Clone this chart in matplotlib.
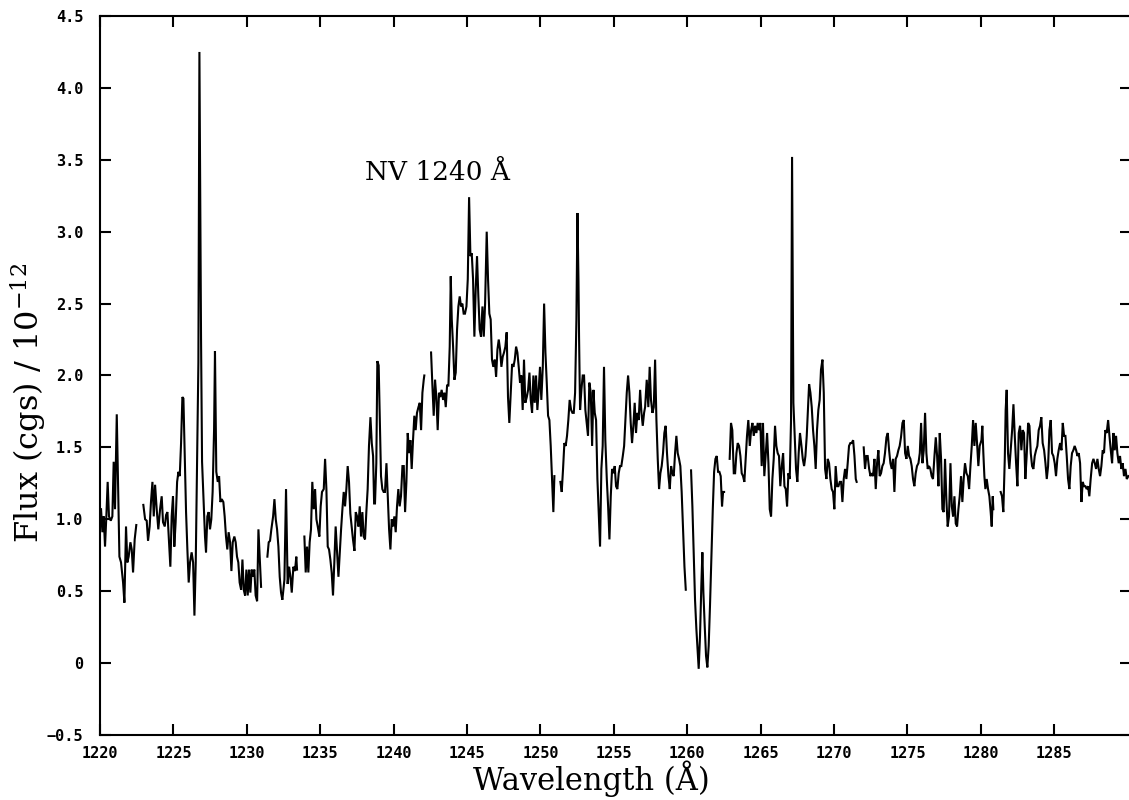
import numpy as np
import matplotlib
matplotlib.use("Agg")
import matplotlib.pyplot as plt

# spectrum, one pair of lists per unbroken piece of the trace
wave_a = [1220.07, 1220.16, 1220.25, 1220.34, 1220.43, 1220.52, 1220.61, 1220.73, 1220.84, 1220.93,
          1221.02, 1221.14, 1221.23, 1221.32, 1221.43, 1221.57, 1221.66, 1221.77, 1221.86, 1221.95,
          1222.07, 1222.16, 1222.25, 1222.36, 1222.47]
flux_a = [1.07, 0.91, 1.02, 0.81, 1.02, 1.26, 1.02, 0.99, 1.02, 1.40,
          1.07, 1.73, 1.23, 0.74, 0.70, 0.56, 0.42, 0.95, 0.70, 0.74,
          0.84, 0.79, 0.63, 0.86, 0.96]

wave_b = [1222.95, 1223.07, 1223.18, 1223.27, 1223.38, 1223.47, 1223.57, 1223.66, 1223.75, 1223.86,
          1223.97, 1224.09, 1224.20, 1224.29, 1224.41, 1224.50, 1224.59, 1224.70, 1224.79, 1224.88,
          1224.97, 1225.06, 1225.15, 1225.25, 1225.34, 1225.43, 1225.52, 1225.61, 1225.68, 1225.77,
          1225.86, 1225.95, 1226.04, 1226.13, 1226.24, 1226.34, 1226.43, 1226.52, 1226.61, 1226.70,
          1226.77, 1226.88, 1226.95, 1227.04, 1227.15, 1227.22, 1227.31, 1227.40, 1227.49, 1227.58,
          1227.67, 1227.77, 1227.83, 1227.92, 1228.02, 1228.11, 1228.20, 1228.29, 1228.40, 1228.49,
          1228.58, 1228.67, 1228.76, 1228.86, 1228.95, 1229.04, 1229.15, 1229.24, 1229.33, 1229.42,
          1229.51, 1229.61, 1229.70, 1229.79, 1229.88, 1229.97, 1230.06, 1230.15, 1230.24, 1230.33,
          1230.42, 1230.51, 1230.60, 1230.70, 1230.79, 1230.97]
flux_b = [1.10, 1.00, 0.99, 0.85, 0.95, 1.12, 1.26, 1.02, 1.24, 1.07,
          0.93, 1.07, 1.16, 0.98, 0.95, 1.03, 1.05, 0.84, 0.67, 1.02,
          1.16, 0.81, 0.98, 1.26, 1.33, 1.30, 1.53, 1.85, 1.84, 1.46,
          1.05, 0.79, 0.56, 0.70, 0.77, 0.70, 0.33, 0.70, 1.40, 2.09,
          4.25, 2.27, 1.40, 1.16, 0.88, 0.77, 1.02, 1.05, 0.93, 1.00,
          1.19, 1.63, 2.17, 1.33, 1.26, 1.30, 1.12, 1.14, 1.12, 1.02,
          0.88, 0.79, 0.91, 0.84, 0.64, 0.84, 0.88, 0.84, 0.74, 0.70,
          0.56, 0.51, 0.72, 0.51, 0.47, 0.65, 0.47, 0.65, 0.49, 0.65,
          0.60, 0.65, 0.47, 0.43, 0.93, 0.53]

wave_c = [1231.40, 1231.49, 1231.58, 1231.67, 1231.79, 1231.88, 1231.97, 1232.06, 1232.15, 1232.24,
          1232.33, 1232.42, 1232.56, 1232.67, 1232.78, 1232.88, 1232.97, 1233.06, 1233.17, 1233.28,
          1233.37, 1233.42]
flux_c = [0.74, 0.84, 0.85, 0.93, 1.02, 1.14, 1.00, 0.93, 0.81, 0.60,
          0.49, 0.44, 0.58, 1.21, 0.55, 0.67, 0.60, 0.49, 0.67, 0.64,
          0.74, 0.65]

wave_d = [1233.92, 1234.01, 1234.10, 1234.19, 1234.28, 1234.37, 1234.46, 1234.56, 1234.65, 1234.74,
          1234.83, 1234.94, 1235.03, 1235.12, 1235.24, 1235.33, 1235.42, 1235.51, 1235.60, 1235.69,
          1235.78, 1235.87, 1235.96, 1236.05, 1236.15, 1236.24, 1236.33, 1236.42, 1236.51, 1236.60,
          1236.69, 1236.78, 1236.87, 1236.96, 1237.05, 1237.14, 1237.23, 1237.33, 1237.42, 1237.51,
          1237.60, 1237.69, 1237.78, 1237.87, 1237.96, 1238.05, 1238.14, 1238.23, 1238.32, 1238.42,
          1238.51, 1238.60, 1238.67, 1238.73, 1238.82, 1238.89, 1238.98, 1239.05, 1239.14, 1239.23,
          1239.32, 1239.41, 1239.51, 1239.60, 1239.69, 1239.78, 1239.87, 1239.96, 1240.05, 1240.14,
          1240.23, 1240.32, 1240.41, 1240.50, 1240.60, 1240.69, 1240.78, 1240.87, 1240.96, 1241.05,
          1241.14, 1241.23, 1241.32, 1241.41, 1241.50, 1241.59, 1241.69, 1241.78, 1241.87, 1241.96,
          1242.05, 1242.09]
flux_d = [0.88, 0.63, 0.81, 0.63, 0.84, 0.93, 1.26, 1.07, 1.21, 1.00,
          0.95, 0.88, 1.09, 1.19, 1.21, 1.42, 1.21, 0.81, 0.79, 0.72,
          0.63, 0.47, 0.70, 0.95, 0.77, 0.60, 0.77, 0.93, 1.07, 1.19,
          1.09, 1.21, 1.37, 1.26, 1.04, 0.95, 0.86, 0.78, 1.05, 1.02,
          0.95, 1.09, 0.88, 1.05, 0.88, 0.86, 1.05, 1.21, 1.51, 1.71,
          1.53, 1.44, 1.11, 1.11, 1.39, 2.10, 2.07, 1.74, 1.30, 1.21,
          1.19, 1.19, 1.39, 1.16, 0.93, 0.79, 1.00, 0.95, 1.02, 0.91,
          1.09, 1.21, 1.09, 1.16, 1.37, 1.37, 1.05, 1.26, 1.60, 1.46,
          1.55, 1.35, 1.55, 1.72, 1.62, 1.74, 1.78, 1.81, 1.62, 1.88,
          1.97, 2.00]

wave_e = [1242.55, 1242.64, 1242.73, 1242.82, 1242.91, 1243.00, 1243.09, 1243.18, 1243.27, 1243.37,
          1243.46, 1243.55, 1243.64, 1243.73, 1243.82, 1243.89, 1243.96, 1244.05, 1244.14, 1244.23,
          1244.32, 1244.41, 1244.50, 1244.59, 1244.68, 1244.77,
          1244.86, 1244.96, 1245.05, 1245.14, 1245.23, 1245.32, 1245.41, 1245.50, 1245.59, 1245.68,
          1245.77, 1245.86, 1245.95, 1246.05, 1246.14, 1246.23, 1246.34, 1246.43, 1246.52, 1246.61,
          1246.70, 1246.79, 1246.89, 1246.98, 1247.07, 1247.16, 1247.25, 1247.34, 1247.43, 1247.52,
          1247.61, 1247.70, 1247.79, 1247.88, 1247.98, 1248.07, 1248.16, 1248.25, 1248.34, 1248.43,
          1248.52, 1248.61, 1248.70, 1248.79, 1248.88, 1248.97, 1249.07, 1249.16, 1249.25, 1249.34,
          1249.43, 1249.52, 1249.61, 1249.70, 1249.79, 1249.88, 1249.97, 1250.06, 1250.16, 1250.25,
          1250.34, 1250.43, 1250.52, 1250.61, 1250.70, 1250.79, 1250.88, 1250.95]
flux_e = [2.16, 1.93, 1.72, 1.97, 1.85, 1.62, 1.88, 1.85, 1.90, 1.83,
          1.88, 1.78, 1.93, 1.93, 2.20, 2.69, 2.39, 2.20, 1.97, 2.02,
          2.32, 2.48, 2.55, 2.48, 2.50, 2.43,
          2.43, 2.48, 2.67, 3.24, 2.83, 2.85, 2.67, 2.27, 2.60, 2.83,
          2.55, 2.32, 2.27, 2.48, 2.27, 2.50, 3.00, 2.67, 2.43, 2.39,
          2.11, 2.06, 2.11, 1.99, 2.18, 2.25, 2.18, 2.06, 2.13, 2.16,
          2.20, 2.30, 1.85, 1.67, 1.88, 2.08, 2.06, 2.11, 2.20, 2.16,
          2.06, 1.95, 2.00, 1.76, 2.11, 1.81, 1.85, 1.90, 2.02, 1.83,
          1.74, 2.00, 1.81, 2.00, 1.76, 1.90, 2.06, 1.83, 2.06, 2.50,
          2.16, 1.95, 1.72, 1.69, 1.51, 1.28, 1.05, 1.30]

wave_f = [1251.36, 1251.45, 1251.54, 1251.63, 1251.72, 1251.81, 1251.90, 1251.99, 1252.09, 1252.18,
          1252.27, 1252.36, 1252.45, 1252.52, 1252.59, 1252.63, 1252.70, 1252.79, 1252.88, 1252.97,
          1253.06, 1253.15, 1253.24, 1253.33, 1253.43, 1253.52, 1253.61, 1253.70, 1253.79, 1253.88,
          1253.97, 1254.06, 1254.15, 1254.24, 1254.33, 1254.42, 1254.52, 1254.61, 1254.70, 1254.79,
          1254.88, 1254.97, 1255.06, 1255.15, 1255.24, 1255.33, 1255.42, 1255.51, 1255.61, 1255.70,
          1255.79, 1255.88, 1255.97, 1256.06, 1256.15, 1256.24, 1256.33, 1256.42, 1256.51, 1256.60,
          1256.69, 1256.79, 1256.88, 1256.97, 1257.06,
          1257.13, 1257.24, 1257.35, 1257.44, 1257.53, 1257.63, 1257.72, 1257.81, 1257.90, 1257.99,
          1258.08, 1258.17, 1258.26, 1258.35, 1258.44, 1258.53, 1258.62, 1258.72, 1258.81, 1258.90,
          1258.99, 1259.08, 1259.17, 1259.26, 1259.35, 1259.44, 1259.53, 1259.62, 1259.71, 1259.81,
          1259.90]
flux_f = [1.26, 1.19, 1.35, 1.53, 1.51, 1.58, 1.69, 1.83, 1.76, 1.74,
          1.74, 1.88, 2.39, 3.13, 2.67, 2.27, 1.76, 1.90, 2.00, 2.00,
          1.76, 1.67, 1.58, 1.95, 1.88, 1.51, 1.90, 1.74, 1.69, 1.28,
          1.05, 0.81, 1.35, 1.51, 2.06, 1.55, 1.28, 1.09, 0.86, 1.16,
          1.35, 1.32, 1.37, 1.23, 1.21, 1.32, 1.37, 1.37, 1.44, 1.51,
          1.69, 1.88, 2.00, 1.88, 1.67, 1.53, 1.65, 1.81, 1.60, 1.74,
          1.69, 1.90, 1.74, 1.65, 1.74,
          1.78, 1.97, 1.78, 2.06, 1.83, 1.74, 1.78, 2.11, 1.69, 1.42,
          1.21, 1.32, 1.37, 1.46, 1.60, 1.65, 1.46, 1.30, 1.21, 1.37,
          1.32, 1.30, 1.46, 1.58, 1.46, 1.42, 1.37, 1.19, 0.95, 0.67,
          0.51]

wave_g = [1260.26, 1260.35, 1260.44, 1260.53, 1260.62, 1260.71, 1260.78, 1260.87, 1260.96, 1261.03,
          1261.10, 1261.19, 1261.28, 1261.37, 1261.46, 1261.55, 1261.64, 1261.74, 1261.83, 1261.92,
          1262.01, 1262.10, 1262.19, 1262.28, 1262.37, 1262.44, 1262.51]
flux_g = [1.34, 1.09, 0.77, 0.44, 0.24, 0.08, -0.04, 0.19, 0.54, 0.77,
          0.49, 0.26, 0.05, -0.03, 0.12, 0.40, 0.72, 1.07, 1.33, 1.42,
          1.44, 1.33, 1.33, 1.30, 1.09, 1.19, 1.19]

wave_h = [1262.89, 1262.98, 1263.07, 1263.17, 1263.26, 1263.35, 1263.44, 1263.53, 1263.62, 1263.71,
          1263.80, 1263.89, 1263.98, 1264.07, 1264.16, 1264.26, 1264.35, 1264.44, 1264.53, 1264.62,
          1264.71, 1264.80, 1264.89, 1264.98, 1265.07, 1265.16, 1265.25, 1265.35, 1265.44, 1265.53,
          1265.62, 1265.71, 1265.80, 1265.89, 1265.98, 1266.07, 1266.16, 1266.25, 1266.34, 1266.44,
          1266.53, 1266.62, 1266.71, 1266.80, 1266.89, 1266.98, 1267.07, 1267.14, 1267.23, 1267.32,
          1267.41, 1267.50, 1267.59, 1267.68, 1267.78, 1267.87, 1267.96, 1268.05, 1268.14, 1268.23,
          1268.30, 1268.39, 1268.48, 1268.57, 1268.66, 1268.75, 1268.84, 1268.93, 1269.02, 1269.11,
          1269.21, 1269.30, 1269.39,
          1269.48, 1269.57, 1269.66, 1269.75, 1269.84, 1269.93, 1270.02, 1270.11, 1270.21, 1270.30,
          1270.39, 1270.48, 1270.57, 1270.66, 1270.75, 1270.84, 1270.93, 1271.02, 1271.11, 1271.20,
          1271.30, 1271.39, 1271.48, 1271.54]
flux_h = [1.42, 1.67, 1.62, 1.32, 1.32, 1.46, 1.53, 1.51, 1.44, 1.32,
          1.30, 1.26, 1.42, 1.58, 1.69, 1.51, 1.62, 1.67, 1.58, 1.65,
          1.60, 1.67, 1.62, 1.67, 1.37, 1.67, 1.30, 1.46, 1.60, 1.39,
          1.07, 1.02, 1.28, 1.42, 1.65, 1.51, 1.46, 1.44, 1.23, 1.37,
          1.46, 1.23, 1.21, 1.09, 1.32, 1.28, 1.69, 3.52, 1.81, 1.58,
          1.35, 1.26, 1.46, 1.60, 1.51, 1.42, 1.37, 1.44, 1.58, 1.78,
          1.94, 1.88, 1.78, 1.62, 1.51, 1.35, 1.62, 1.76, 1.83, 2.04,
          2.11, 1.88, 1.35,
          1.28, 1.42, 1.39, 1.28, 1.21, 1.19, 1.07, 1.37, 1.23, 1.23,
          1.26, 1.26, 1.12, 1.28, 1.35, 1.28, 1.39, 1.51, 1.53, 1.53,
          1.55, 1.44, 1.28, 1.26]

wave_i = [1272.02, 1272.11, 1272.20, 1272.29, 1272.39, 1272.48, 1272.57, 1272.66, 1272.75, 1272.84,
          1272.93, 1273.02, 1273.11, 1273.20, 1273.29, 1273.38, 1273.47, 1273.57, 1273.66, 1273.75,
          1273.84, 1273.93, 1274.02, 1274.11, 1274.20, 1274.29, 1274.38, 1274.47, 1274.56, 1274.66,
          1274.75, 1274.84, 1274.93, 1275.02, 1275.11, 1275.20, 1275.29, 1275.38, 1275.47, 1275.56,
          1275.65, 1275.75, 1275.84, 1275.93, 1276.02, 1276.11, 1276.20, 1276.29, 1276.38, 1276.47,
          1276.56, 1276.65, 1276.74, 1276.84, 1276.93, 1277.02, 1277.11, 1277.20, 1277.29, 1277.38,
          1277.47, 1277.56, 1277.65, 1277.74, 1277.83, 1277.93, 1278.02, 1278.11, 1278.20, 1278.29,
          1278.38, 1278.47, 1278.56, 1278.65, 1278.74, 1278.83, 1278.92, 1279.02, 1279.11, 1279.20,
          1279.29, 1279.38, 1279.47, 1279.56, 1279.65, 1279.74, 1279.83, 1279.92,
          1280.04, 1280.10, 1280.17, 1280.24, 1280.31, 1280.40, 1280.49, 1280.58, 1280.67, 1280.74,
          1280.81, 1280.85]
flux_i = [1.50, 1.35, 1.44, 1.44, 1.35, 1.30, 1.32, 1.30, 1.42, 1.21,
          1.39, 1.48, 1.30, 1.32, 1.37, 1.39, 1.46, 1.57, 1.60, 1.48,
          1.39, 1.35, 1.42, 1.19, 1.42, 1.44, 1.48, 1.51, 1.57, 1.67,
          1.69, 1.46, 1.42, 1.51, 1.44, 1.42, 1.37, 1.28, 1.23, 1.32,
          1.37, 1.39, 1.46, 1.67, 1.39, 1.48, 1.74, 1.46, 1.35, 1.37,
          1.35, 1.30, 1.28, 1.44, 1.57, 1.44, 1.23, 1.60, 1.42, 1.07,
          1.05, 1.42, 1.14, 0.95, 1.02, 1.39, 1.09, 1.02, 1.16, 0.97,
          0.95, 1.07, 1.16, 1.30, 1.12, 1.28, 1.39, 1.32, 1.30, 1.21,
          1.37, 1.51, 1.69, 1.51, 1.67, 1.53, 1.37, 1.51,
          1.55, 1.65, 1.46, 1.30, 1.21, 1.28, 1.21, 1.16, 1.05, 0.95,
          1.16, 1.07]

wave_j = [1281.35, 1281.44, 1281.53, 1281.63, 1281.69, 1281.76, 1281.85, 1281.94, 1282.03, 1282.13,
          1282.22, 1282.31, 1282.40, 1282.49, 1282.58, 1282.67, 1282.76, 1282.85, 1282.94, 1283.03,
          1283.12, 1283.22, 1283.31, 1283.40, 1283.49, 1283.58, 1283.67, 1283.76, 1283.85, 1283.94,
          1284.03, 1284.12, 1284.21, 1284.31, 1284.40, 1284.49, 1284.58, 1284.67, 1284.76, 1284.85,
          1284.94, 1285.03, 1285.12, 1285.21, 1285.30, 1285.40, 1285.49, 1285.58, 1285.67, 1285.76,
          1285.85, 1285.94, 1286.03, 1286.12, 1286.21, 1286.30, 1286.39, 1286.49, 1286.58, 1286.67,
          1286.76, 1286.85, 1286.94, 1287.03, 1287.12, 1287.21, 1287.30, 1287.39, 1287.48, 1287.58,
          1287.67, 1287.76, 1287.85, 1287.94, 1288.03, 1288.12, 1288.21, 1288.30, 1288.39, 1288.48,
          1288.57, 1288.67, 1288.76, 1288.85, 1288.94, 1289.03, 1289.12, 1289.21, 1289.30, 1289.39,
          1289.48, 1289.57, 1289.66, 1289.75, 1289.85, 1289.94, 1290.05]
flux_j = [1.19, 1.16, 1.05, 1.42, 1.76, 1.90, 1.46, 1.35, 1.48, 1.62,
          1.80, 1.58, 1.39, 1.23, 1.60, 1.65, 1.48, 1.62, 1.60, 1.28,
          1.44, 1.67, 1.65, 1.46, 1.37, 1.35, 1.44, 1.48, 1.51, 1.62,
          1.65, 1.71, 1.53, 1.48, 1.39, 1.28, 1.37, 1.62, 1.69, 1.46,
          1.44, 1.39, 1.30, 1.42, 1.48, 1.53, 1.48, 1.67, 1.58, 1.58,
          1.44, 1.28, 1.21, 1.37, 1.46, 1.48, 1.51, 1.48, 1.44, 1.46,
          1.39, 1.12, 1.26, 1.23, 1.23, 1.21, 1.23, 1.16, 1.28, 1.39,
          1.42, 1.39, 1.35, 1.42, 1.35, 1.30, 1.37, 1.48, 1.46, 1.62,
          1.60, 1.69, 1.58, 1.48, 1.39, 1.60, 1.48, 1.58, 1.46, 1.39,
          1.44, 1.35, 1.39, 1.30, 1.35, 1.28, 1.30]

x_ticks = [1220, 1225, 1230, 1235, 1240, 1245, 1250, 1255, 1260, 1265, 1270, 1275, 1280, 1285]
y_ticks = [-0.5, 0, 0.5, 1.0, 1.5, 2.0, 2.5, 3.0, 3.5, 4.0, 4.5]
y_tick_labels = ["\u22120.5", "0", "0.5", "1.0", "1.5", "2.0", "2.5", "3.0", "3.5", "4.0", "4.5"]


def join_segments(segs):
    # put a NaN between pieces so the line breaks where the data has gaps
    w, f = [], []
    for sw, sf in segs:
        w += list(sw) + [np.nan]
        f += list(sf) + [np.nan]
    return np.array(w), np.array(f)


segments = [(wave_a, flux_a), (wave_b, flux_b), (wave_c, flux_c), (wave_d, flux_d),
            (wave_e, flux_e), (wave_f, flux_f), (wave_g, flux_g), (wave_h, flux_h),
            (wave_i, flux_i), (wave_j, flux_j)]
wave, flux = join_segments(segments)

plt.rcParams["mathtext.fontset"] = "dejavuserif"

fig = plt.figure(figsize=(11.29, 8.0), dpi=100)
ax = fig.add_axes([0.0886, 0.0813, 0.9132, 0.8987])

ax.plot(wave, flux, color="black", lw=1.5, solid_joinstyle="miter")

ax.set_xlim(1220, 1290.23)
ax.set_ylim(-0.5, 4.5)

ax.set_xticks(x_ticks)
ax.set_xticklabels([str(t) for t in x_ticks])
ax.set_yticks(y_ticks)
ax.set_yticklabels(y_tick_labels)
ax.tick_params(direction="in", length=8, width=1.5, top=True, right=True,
               labeltop=False, labelright=False)
ax.tick_params(axis="x", pad=8)
ax.tick_params(axis="y", pad=12)
for lab in ax.get_xticklabels() + ax.get_yticklabels():
    lab.set_family("DejaVu Sans Mono")
    lab.set_fontweight("bold")
    lab.set_fontsize(11)

for sp in ax.spines.values():
    sp.set_linewidth(1.5)

ax.text(1238.05, 3.41, "NV 1240 \u00c5", family="DejaVu Serif", fontsize=19,
        ha="left", va="center")

fig.text(0.524, 0.026, "Wavelength (\u00c5)", family="DejaVu Serif", fontsize=22,
         ha="center", va="center")
fig.text(0.026, 0.496, r"Flux (cgs) / 10$^{-12}$", family="DejaVu Serif", fontsize=23,
         rotation=90, ha="center", va="center")

fig.savefig("out.png", dpi=100)
